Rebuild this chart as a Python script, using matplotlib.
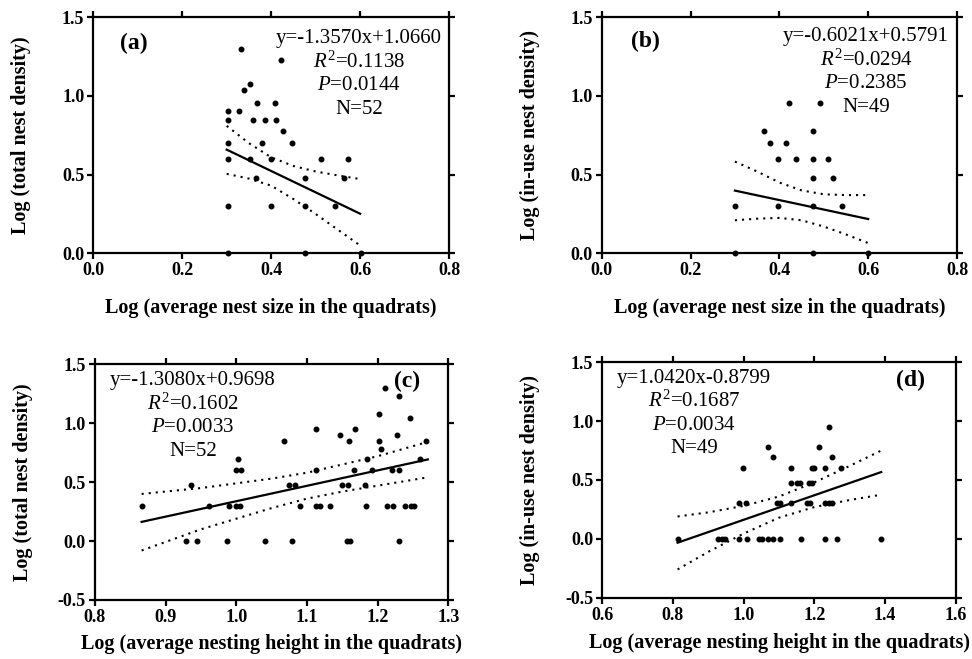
"""
    Nest density vs. nest size / nesting height, four regression panels
"""
import numpy as np
import matplotlib
matplotlib.use("Agg")
from matplotlib import pyplot as plt
from matplotlib.ticker import MultipleLocator, FormatStrFormatter

W, H = 972, 659

# --- data -----------------------------------------------------------------
# (a) total nest density vs nest size
a_x = [0.302, 0.302, 0.302, 0.302, 0.302, 0.302, 0.327, 0.333, 0.339, 0.353,
       0.353, 0.360, 0.367, 0.369, 0.380, 0.387, 0.399, 0.399, 0.408, 0.410,
       0.423, 0.426, 0.447, 0.477, 0.477, 0.477, 0.512, 0.544, 0.563, 0.573, 0.602]
a_y = [0.903, 0.845, 0.699, 0.602, 0.301, 0.0, 0.903, 1.301, 1.041, 1.079,
       0.602, 0.845, 0.477, 0.954, 0.699, 0.845, 0.602, 0.301, 0.954, 0.845,
       1.230, 0.778, 0.699, 0.477, 0.301, 0.0, 0.602, 0.301, 0.477, 0.602, 0.0]
a_fit = [-1.3570, 1.0660]
a_fit_x = [0.30, 0.60]
a_band_x = [0.30, 0.35, 0.40, 0.45, 0.50, 0.55, 0.60]
a_band_up = [0.81, 0.70, 0.61, 0.555, 0.52, 0.495, 0.472]
a_band_lo = [0.505, 0.475, 0.43, 0.345, 0.25, 0.15, 0.05]
a_text = ["y=-1.3570x+1.0660", r"$\mathit{R}^2$=0.1138", r"$\mathit{P}$=0.0144", "N=52"]

# (b) in-use nest density vs nest size
b_x = [0.300, 0.300, 0.365, 0.379, 0.414, 0.396, 0.396, 0.422, 0.438, 0.475,
       0.475, 0.475, 0.475, 0.475, 0.491, 0.510, 0.521, 0.542, 0.600]
b_y = [0.301, 0.0, 0.778, 0.699, 0.699, 0.602, 0.301, 0.954, 0.602, 0.778,
       0.602, 0.477, 0.301, 0.0, 0.954, 0.602, 0.477, 0.301, 0.0]
b_fit = [-0.6021, 0.5791]
b_fit_x = [0.30, 0.60]
b_band_x = [0.30, 0.35, 0.40, 0.45, 0.50, 0.55, 0.60]
b_band_up = [0.583, 0.52, 0.45, 0.40, 0.375, 0.37, 0.37]
b_band_lo = [0.21, 0.22, 0.225, 0.21, 0.17, 0.12, 0.065]
b_text = ["y=-0.6021x+0.5791", r"$\mathit{R}^2$=0.0294", r"$\mathit{P}$=0.2385", "N=49"]

# (c) total nest density vs nesting height
c_x = [0.866, 0.929, 0.936, 0.944, 0.961, 0.987, 0.989, 0.999, 1.006, 1.003,
       0.999, 1.005, 1.041, 1.068, 1.075, 1.083, 1.079, 1.090, 1.113, 1.113,
       1.113, 1.118, 1.133, 1.147, 1.149, 1.158, 1.157, 1.161, 1.160, 1.166,
       1.168, 1.182, 1.183, 1.185, 1.192, 1.202, 1.202, 1.205, 1.210, 1.213,
       1.220, 1.222, 1.227, 1.230, 1.230, 1.230, 1.239, 1.246, 1.247, 1.251,
       1.260, 1.269]
c_y = [0.301, 0.0, 0.477, 0.0, 0.301, 0.0, 0.301, 0.602, 0.602, 0.699,
       0.301, 0.301, 0.0, 0.845, 0.477, 0.477, 0.0, 0.301, 0.954, 0.602,
       0.301, 0.301, 0.301, 0.903, 0.477, 0.477, 0.0, 0.0, 0.845, 0.602,
       0.954, 0.477, 0.301, 0.699, 0.602, 0.845, 1.079, 0.778, 1.301, 0.301,
       0.602, 0.301, 0.903, 1.230, 0.602, 0.0, 0.301, 1.041, 0.301, 0.301,
       0.699, 0.845]
c_fit = [1.3080, -0.9698]  # drawn line rises, label in the figure says "-"
c_fit_x = [0.866, 1.271]
c_band_x = [0.866, 0.95, 1.0, 1.05, 1.10, 1.15, 1.20, 1.27]
c_band_up = [0.40, 0.45, 0.49, 0.53, 0.58, 0.65, 0.72, 0.84]
c_band_lo = [-0.08, 0.10, 0.19, 0.28, 0.36, 0.42, 0.47, 0.54]
c_text = ["y=-1.3080x+0.9698", r"$\mathit{R}^2$=0.1602", r"$\mathit{P}$=0.0033", "N=52"]

# (d) in-use nest density vs nesting height
d_x = [0.813, 0.928, 0.938, 0.947, 0.988, 1.007, 0.999, 0.988, 1.008, 1.042,
       1.051, 1.070, 1.070, 1.084, 1.093, 1.103, 1.082, 1.103, 1.134, 1.134,
       1.150, 1.159, 1.134, 1.161, 1.178, 1.188, 1.193, 1.199, 1.186, 1.193,
       1.214, 1.230, 1.230, 1.240, 1.249, 1.230, 1.240, 1.251, 1.265, 1.275, 1.389]
d_y = [0.0, 0.0, 0.0, 0.0, 0.301, 0.301, 0.602, 0.0, 0.0, 0.0,
       0.0, 0.778, 0.0, 0.699, 0.301, 0.301, 0.0, 0.0, 0.602, 0.477,
       0.477, 0.477, 0.301, 0.0, 0.301, 0.301, 0.602, 0.602, 0.477, 0.477,
       0.778, 0.602, 0.301, 0.301, 0.301, 0.0, 0.954, 0.699, 0.0, 0.602, 0.0]
d_fit = [1.0420, -0.8799]
d_fit_x = [0.813, 1.389]
d_band_x = [0.813, 0.9, 1.0, 1.1, 1.2, 1.3, 1.389]
d_band_up = [0.19, 0.225, 0.28, 0.36, 0.48, 0.62, 0.75]
d_band_lo = [-0.26, -0.11, 0.045, 0.18, 0.27, 0.33, 0.375]
d_text = ["y=1.0420x-0.8799", r"$\mathit{R}^2$=0.1687", r"$\mathit{P}$=0.0034", "N=49"]

YLAB_TOTAL = "Log (total nest density)"
YLAB_INUSE = "Log (in-use nest density)"
XLAB_SIZE = "Log (average nest size in the quadrats)"
XLAB_HEIGHT = "Log (average nesting height in the quadrats)"

plt.rcParams["font.family"] = ["Liberation Serif", "DejaVu Serif"]
plt.rcParams["mathtext.fontset"] = "custom"
plt.rcParams["mathtext.rm"] = "Liberation Serif"
plt.rcParams["mathtext.it"] = "Liberation Serif:italic"
plt.rcParams["mathtext.bf"] = "Liberation Serif:bold"
plt.rcParams["axes.unicode_minus"] = False


def px_rect(left, top, right, bottom):
    return [left / W, 1 - bottom / H, (right - left) / W, (bottom - top) / H]


def draw_panel(fig, rect, xs, ys, fit, fit_x, band_x, band_up, band_lo,
               xlim, xstep, ylim, xlabel, ylabel, xlab_y, letter, letter_px, text, text_px):
    ax = fig.add_axes(rect)
    ax.set_xlim(*xlim)
    ax.set_ylim(*ylim)
    ax.xaxis.set_major_locator(MultipleLocator(xstep))
    ax.yaxis.set_major_locator(MultipleLocator(0.5))
    ax.xaxis.set_major_formatter(FormatStrFormatter("%.1f"))
    ax.yaxis.set_major_formatter(FormatStrFormatter("%.1f"))
    for sp in ax.spines.values():
        sp.set_linewidth(1.6)
    ax.tick_params(direction="out", length=4.5, width=1.6, top=True, right=True,
                   labelsize=13, pad=2)
    for lab in ax.get_xticklabels() + ax.get_yticklabels():
        lab.set_fontweight("bold")

    ax.plot(xs, ys, "k.", ms=6.5, clip_on=False, zorder=5)
    fx = np.array(fit_x)
    ax.plot(fx, fit[0] * fx + fit[1], "k-", lw=1.6)
    ax.plot(band_x, band_up, color="k", lw=1.5, ls=(0, (1, 2.4)))
    ax.plot(band_x, band_lo, color="k", lw=1.5, ls=(0, (1, 2.4)))

    ax.set_xlabel(xlabel, fontsize=14.5, fontweight="bold")
    ax.set_ylabel(ylabel, fontsize=14.5, fontweight="bold")
    ax.xaxis.set_label_coords(0.5, xlab_y)
    ax.yaxis.set_label_coords(-0.175, 0.5)

    fig.text(letter_px[0] / W, 1 - letter_px[1] / H, letter, fontsize=17,
             fontweight="bold", ha="center", va="center")
    for ii, line in enumerate(text):
        y = text_px[1] + ii * 23.5
        fig.text(text_px[0] / W, 1 - y / H, line, fontsize=15, ha="center", va="center")
    return ax


fig = plt.figure(figsize=(W / 100, H / 100), dpi=100)

draw_panel(fig, px_rect(93.3, 17.3, 449, 253.3), a_x, a_y, a_fit, a_fit_x,
           a_band_x, a_band_up, a_band_lo, (0, 0.8), 0.2, (0, 1.5),
           XLAB_SIZE, YLAB_TOTAL, -0.19, "(a)", (134, 43), a_text, (359, 39))
draw_panel(fig, px_rect(601.7, 17.3, 957, 253.3), b_x, b_y, b_fit, b_fit_x,
           b_band_x, b_band_up, b_band_lo, (0, 0.8), 0.2, (0, 1.5),
           XLAB_SIZE, YLAB_INUSE, -0.19, "(b)", (645, 41), b_text, (866, 37))
draw_panel(fig, px_rect(95, 364.3, 448.3, 600), c_x, c_y, c_fit, c_fit_x,
           c_band_x, c_band_up, c_band_lo, (0.8, 1.3), 0.1, (-0.5, 1.5),
           XLAB_HEIGHT, YLAB_TOTAL, -0.145, "(c)", (407, 381), c_text, (193, 381))
draw_panel(fig, px_rect(602.3, 362.3, 955.8, 597.7), d_x, d_y, d_fit, d_fit_x,
           d_band_x, d_band_up, d_band_lo, (0.6, 1.6), 0.2, (-0.5, 1.5),
           XLAB_HEIGHT, YLAB_INUSE, -0.15, "(d)", (910, 380), d_text, (694, 378))

plt.savefig("out.png", dpi=100)
plt.close()
